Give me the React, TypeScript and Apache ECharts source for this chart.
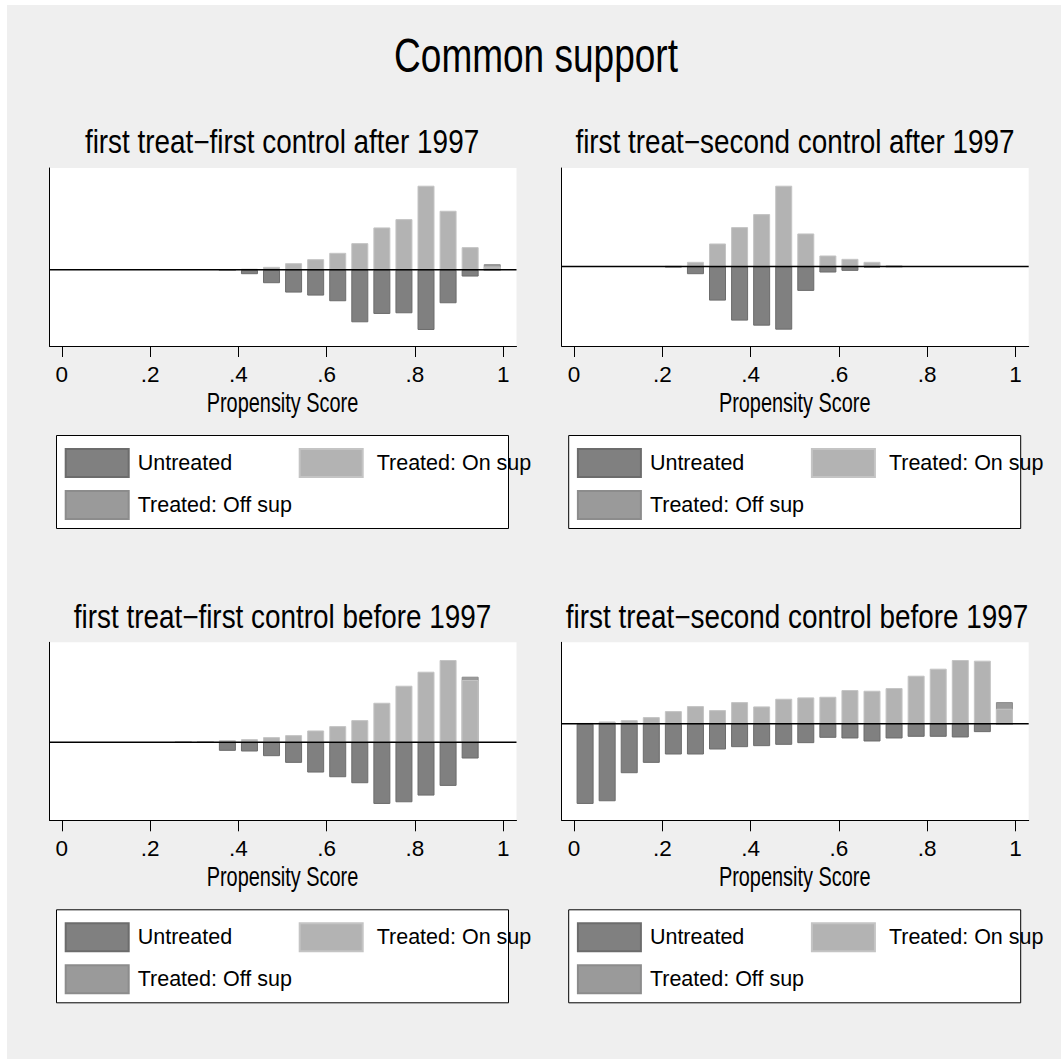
import React, { useEffect, useRef } from 'react';
import * as echarts from 'echarts';

const FONT = '"Liberation Sans", Arial, Helvetica, sans-serif';

const mainTitle = 'Common support';
const panelTitles = [
  'first treat−first control after 1997',
  'first treat−second control after 1997',
  'first treat−first control before 1997',
  'first treat−second control before 1997',
];
const axisName = 'Propensity Score';
const tickValues = [0, 0.2, 0.4, 0.6, 0.8, 1];
const legendNames = ['Untreated', 'Treated: On sup', 'Treated: Off sup'];

// Panel 1: first treat-first control after 1997
const p1Bins = [0.375, 0.425, 0.475, 0.525, 0.575, 0.625, 0.675, 0.725, 0.775, 0.825, 0.875, 0.925, 0.975];
const p1Untreated = [0, 0.13, 0.4, 0.68, 0.77, 0.94, 1.57, 1.32, 1.3, 1.8, 1.0, 0.2, 0];
const p1OnSup = [0.02, 0.03, 0.09, 0.2, 0.32, 0.51, 0.8, 1.27, 1.52, 2.52, 1.77, 0.68, 0.1];
const p1OffSup = [0, 0, 0, 0, 0, 0, 0, 0, 0, 0, 0, 0, 0.07];
const p1YRange = [-2.28, 3.05];

// Panel 2: first treat-second control after 1997
const p2Bins = [0.225, 0.275, 0.325, 0.375, 0.425, 0.475, 0.525, 0.575, 0.625, 0.675, 0.725];
const p2Untreated = [0.02, 0.23, 1.02, 1.62, 1.77, 1.89, 0.73, 0.18, 0.13, 0.03, 0.01];
const p2OnSup = [0.01, 0.14, 0.69, 1.18, 1.57, 2.42, 0.99, 0.33, 0.23, 0.14, 0.04];
const p2OffSup = [0, 0, 0, 0, 0, 0, 0, 0, 0, 0, 0];
const p2YRange = [-2.38, 2.95];

// Panel 3: first treat-first control before 1997
const p3Bins = [0.275, 0.325, 0.375, 0.425, 0.475, 0.525, 0.575, 0.625, 0.675, 0.725, 0.775, 0.825, 0.875, 0.925];
const p3Untreated = [0.01, 0.01, 0.26, 0.28, 0.42, 0.62, 0.91, 1.05, 1.23, 1.85, 1.8, 1.6, 1.31, 0.49];
const p3OnSup = [0.02, 0.02, 0.06, 0.09, 0.15, 0.21, 0.35, 0.48, 0.66, 1.18, 1.69, 2.11, 2.46, 1.86];
const p3OffSup = [0, 0, 0, 0, 0, 0, 0, 0, 0, 0, 0, 0, 0, 0.1];
const p3YRange = [-2.34, 2.99];

// Panel 4: first treat-second control before 1997
const p4Bins = [0.025, 0.075, 0.125, 0.175, 0.225, 0.275, 0.325, 0.375, 0.425, 0.475, 0.525, 0.575, 0.625, 0.675, 0.725, 0.775, 0.825, 0.875, 0.925, 0.975];
const p4Untreated = [2.4, 2.32, 1.48, 1.17, 0.92, 0.92, 0.77, 0.7, 0.67, 0.63, 0.58, 0.42, 0.44, 0.53, 0.44, 0.39, 0.39, 0.41, 0.25, 0];
const p4OnSup = [0.02, 0.07, 0.11, 0.2, 0.38, 0.53, 0.41, 0.65, 0.52, 0.75, 0.79, 0.81, 1.01, 0.99, 1.07, 1.44, 1.65, 1.91, 1.89, 0.45];
const p4OffSup = [0, 0, 0, 0, 0, 0, 0, 0, 0, 0, 0, 0, 0, 0, 0, 0, 0, 0, 0, 0.2];
const p4YRange = [-2.89, 2.44];

const xRange = [-0.028, 1.03];

const panels = [
  { title: panelTitles[0], bins: p1Bins, untreated: p1Untreated, on: p1OnSup, off: p1OffSup, y: p1YRange },
  { title: panelTitles[1], bins: p2Bins, untreated: p2Untreated, on: p2OnSup, off: p2OffSup, y: p2YRange },
  { title: panelTitles[2], bins: p3Bins, untreated: p3Untreated, on: p3OnSup, off: p3OffSup, y: p3YRange },
  { title: panelTitles[3], bins: p4Bins, untreated: p4Untreated, on: p4OnSup, off: p4OffSup, y: p4YRange },
];

const layout = [
  { left: 42.5, top: 163, cx: 275 },
  { left: 554.7, top: 163, cx: 788 },
  { left: 42.5, top: 637.3, cx: 275.5 },
  { left: 554.7, top: 637.3, cx: 790 },
];
const GRID_W = 467;
const GRID_H = 178;

export default function App() {
  const ref = useRef<HTMLDivElement>(null);
  useEffect(() => {
    const prevBg = document.documentElement.style.background;
    document.documentElement.style.background = '#efefef';
    const el = ref.current!;
    const chart = echarts.init(el, null, { renderer: 'svg' });

    const grid: any[] = [];
    const xAxis: any[] = [];
    const yAxis: any[] = [];
    const series: any[] = [];
    const legend: any[] = [];
    const graphic: any[] = [
      {
        type: 'text',
        x: 529,
        y: 49.8,
        scaleX: 0.757,
        style: { text: mainTitle, fontSize: 48.9, fontFamily: FONT, fill: '#000', align: 'center', verticalAlign: 'middle' },
        z: 10,
      },
    ];

    panels.forEach((p, i) => {
      const L = layout[i];
      const dx = L.left - 42.5;
      const dy = L.top - 163;
      graphic.push({
        type: 'text',
        x: L.cx,
        y: 137 + dy,
        scaleX: 0.858,
        style: { text: p.title, fontSize: 32.5, fontFamily: FONT, fill: '#000', align: 'center', verticalAlign: 'middle' },
        z: 10,
      });
      graphic.push({
        type: 'text',
        x: L.left + GRID_W / 2 - 0.5,
        y: L.top + 234,
        scaleX: 0.714,
        style: { text: axisName, fontSize: 27.9, fontFamily: FONT, fill: '#000', align: 'center', verticalAlign: 'middle' },
        z: 10,
      });
      grid.push({
        left: L.left,
        top: L.top,
        width: GRID_W,
        height: GRID_H,
        show: true,
        backgroundColor: '#ffffff',
        borderWidth: 0,
      });
      xAxis.push({
        type: 'value',
        gridIndex: i,
        min: xRange[0],
        max: xRange[1],
        axisLine: { show: true, onZero: false, lineStyle: { color: '#000', width: 1 } },
        axisTick: { show: true, inside: false, length: 11, customValues: tickValues, lineStyle: { color: '#000', width: 1 } },
        axisLabel: {
          customValues: tickValues,
          margin: 17,
          fontSize: 22.5,
          fontFamily: FONT,
          color: '#000',
          formatter: (v: number) => (v === 0 ? '0' : v === 1 ? '1' : v.toFixed(1).replace(/^0/, '')),
        },
        splitLine: { show: false },
      });
      yAxis.push({
        type: 'value',
        gridIndex: i,
        min: p.y[0],
        max: p.y[1],
        axisLine: { show: true, onZero: false, lineStyle: { color: '#000', width: 1 } },
        axisTick: { show: false },
        axisLabel: { show: false },
        splitLine: { show: false },
      });
      series.push({
        type: 'bar',
        name: legendNames[0],
        xAxisIndex: i,
        yAxisIndex: i,
        barWidth: 17,
        barGap: '-100%',
        itemStyle: { color: '#808080', borderColor: '#6c6c6c', borderWidth: 1 },
        data: p.bins.map((x, k) => [x, -p.untreated[k]]),
        z: 2,
      });
      series.push({
        type: 'bar',
        name: legendNames[2],
        xAxisIndex: i,
        yAxisIndex: i,
        barWidth: 17,
        barGap: '-100%',
        itemStyle: { color: '#9a9a9a', borderColor: '#8c8c8c', borderWidth: 1 },
        data: p.bins
          .map((x, k) => (p.off[k] > 0 ? [x, p.on[k] + p.off[k]] : null))
          .filter((d) => d !== null),
        z: 2,
      });
      series.push({
        type: 'bar',
        name: legendNames[1],
        xAxisIndex: i,
        yAxisIndex: i,
        barWidth: 17,
        barGap: '-100%',
        itemStyle: { color: '#b3b3b3', borderColor: '#c4c4c4', borderWidth: 1 },
        data: p.bins.map((x, k) => [x, p.on[k]]),
        z: 2,
      });
      series.push({
        type: 'line',
        xAxisIndex: i,
        yAxisIndex: i,
        data: [[xRange[0], 0], [xRange[1], 0]],
        symbol: 'none',
        silent: true,
        lineStyle: { color: '#000', width: 1.5 },
        z: 5,
      });
      const legendCommon = {
        orient: 'horizontal',
        padding: 0,
        itemGap: 10,
        itemWidth: 63,
        itemHeight: 28,
        icon: 'rect',
        selectedMode: false,
      };
      const txt = (pad: number) => ({ fontSize: 21.5, fontFamily: FONT, color: '#000', padding: [0, 0, 0, pad] });
      legend.push({ ...legendCommon, data: [legendNames[0]], left: 57.7 + dx, top: 443 + dy, textStyle: txt(4) });
      legend.push({ ...legendCommon, data: [legendNames[1]], left: 291.7 + dx, top: 443 + dy, textStyle: txt(9) });
      legend.push({ ...legendCommon, data: [legendNames[2]], left: 57.7 + dx, top: 485 + dy, textStyle: txt(4) });
      graphic.push({
        type: 'rect',
        shape: { x: 49.5 + dx, y: 430.5 + dy, width: 452, height: 93 },
        style: { fill: '#fff', stroke: '#000', lineWidth: 1 },
        z: 0,
      });
    });

    chart.setOption({
      animation: false,
      backgroundColor: '#efefef',
      grid,
      xAxis,
      yAxis,
      series,
      legend,
      graphic,
    });
    return () => {
      chart.dispose();
      document.documentElement.style.background = prevBg;
    };
  }, []);
  return (
    <>
      <div style={{ position: 'fixed', left: 0, top: 0, right: 0, bottom: 0, background: '#ffffff' }} />
      <div
        ref={ref}
        style={{ position: 'fixed', left: 7, top: 5, right: 0, bottom: 0 }}
      />
    </>
  );
}
